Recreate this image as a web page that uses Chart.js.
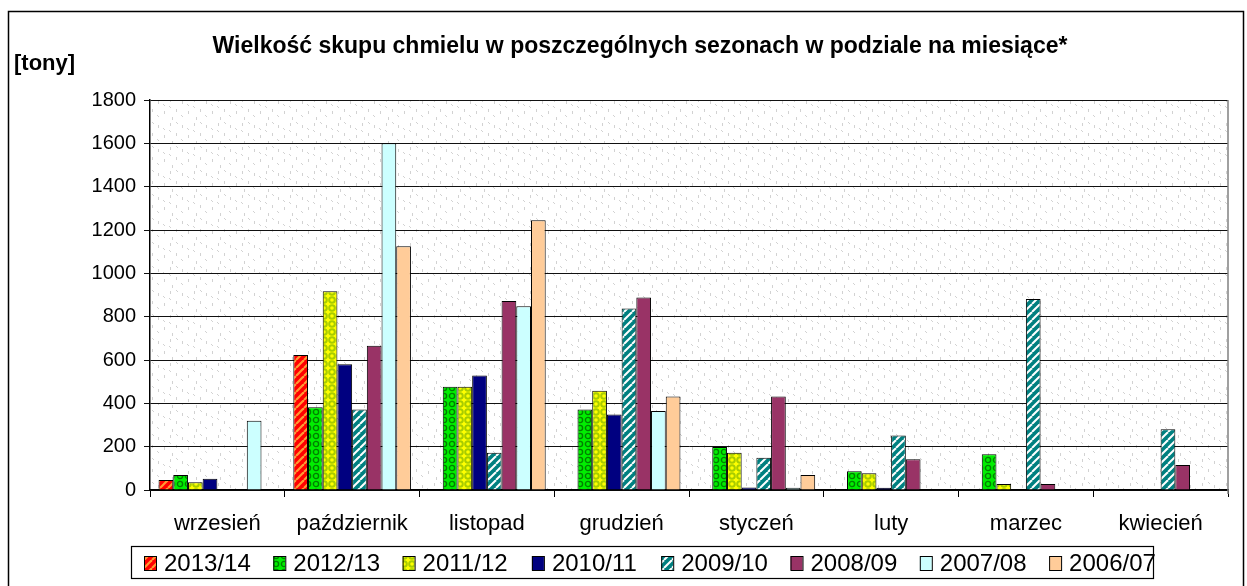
<!DOCTYPE html>
<html>
<head>
<meta charset="utf-8">
<script src="https://cdn.jsdelivr.net/npm/chart.js@4.4.1/dist/chart.umd.min.js"></script>
<style>
  html, body { margin: 0; padding: 0; background: #fff; }
  #c { display: block; }
</style>
</head>
<body>
<canvas id="c" width="1247" height="586"></canvas>
<script>
// ---- DATA ----
const categories = ['wrzesień', 'październik', 'listopad', 'grudzień', 'styczeń', 'luty', 'marzec', 'kwiecień'];
const seasons = ['2013/14', '2012/13', '2011/12', '2010/11', '2009/10', '2008/09', '2007/08', '2006/07'];
const s2013_14 = [46, 623, null, null, null, null, null, null];
const s2012_13 = [69, 382, 477, 372, 198, 86, 165, null];
const s2011_12 = [36, 917, 477, 458, 172, 77, 28, null];
const s2010_11 = [52, 580, 528, 348, 12, 10, null, null];
const s2009_10 = [null, 371, 172, 838, 149, 252, 882, 280];
const s2008_09 = [null, 666, 872, 889, 432, 142, 28, 115];
const s2007_08 = [320, 1600, 848, 365, 10, null, null, null];
const s2006_07 = [null, 1125, 1245, 432, 69, null, null, null];
const seriesValues = [s2013_14, s2012_13, s2011_12, s2010_11, s2009_10, s2008_09, s2007_08, s2006_07];
const yTicks = [0, 200, 400, 600, 800, 1000, 1200, 1400, 1600, 1800];
const titleText = 'Wielkość skupu chmielu w poszczególnych sezonach w podziale na miesiące*';
const unitText = '[tony]';

// ---- STYLE ----
const FONT = '"Liberation Sans", Arial, sans-serif';
const canvas = document.getElementById('c');
const ctx = canvas.getContext('2d');

function mkPattern(w, h, draw) {
  const c = document.createElement('canvas');
  c.width = w; c.height = h;
  const g = c.getContext('2d');
  draw(g, w, h);
  return ctx.createPattern(c, 'repeat');
}
function stripes(g, color, lw) {
  g.strokeStyle = color; g.lineWidth = lw;
  for (let x = -8; x <= 8; x += 8) {
    g.beginPath(); g.moveTo(x, 8); g.lineTo(x + 8, 0); g.stroke();
  }
}
const pRed = mkPattern(8, 8, (g) => { g.fillStyle = '#FF0000'; g.fillRect(0, 0, 8, 8); stripes(g, '#FF9933', 2.2); });
const pGreen = mkPattern(8, 8, (g) => {
  g.fillStyle = '#00EE00'; g.fillRect(0, 0, 8, 8);
  g.strokeStyle = '#008000'; g.lineWidth = 1.4;
  g.beginPath(); g.arc(4, 4, 2.6, 0, Math.PI * 2); g.stroke();
});
const pYellow = mkPattern(8, 8, (g) => {
  g.fillStyle = '#FFFF00'; g.fillRect(0, 0, 8, 8);
  g.strokeStyle = '#A8CC00'; g.lineWidth = 2;
  g.beginPath(); g.arc(4, 4, 2.8, 0, Math.PI * 2); g.stroke();
});
const pTeal = mkPattern(8, 8, (g) => { g.fillStyle = '#008080'; g.fillRect(0, 0, 8, 8); stripes(g, '#FFFFFF', 2); });
const seriesFills = [pRed, pGreen, pYellow, '#000080', pTeal, '#993366', '#CCFFFF', '#FFCC99'];

const pBack = mkPattern(24, 24, (g) => {
  g.fillStyle = '#FFFFFF'; g.fillRect(0, 0, 24, 24);
  g.fillStyle = '#D2D2D2';
  [[2,3],[14,5],[8,13],[20,15],[4,21]].forEach(([x,y]) => g.fillRect(x, y, 1, 3));
  [[8,2],[19,8],[1,10],[13,19]].forEach(([x,y]) => { g.fillRect(x, y, 1, 1); g.fillRect(x + 1, y + 1, 1, 1); });
});

const decor = {
  id: 'decor',
  beforeDraw(chart) {
    const g = chart.ctx, a = chart.chartArea;
    g.save();
    g.fillStyle = '#fff'; g.fillRect(0, 0, chart.width, chart.height);
    g.fillStyle = pBack; g.fillRect(a.left, a.top, a.right - a.left, a.bottom - a.top);
    g.restore();
  },
  afterDraw(chart) {
    const g = chart.ctx, a = chart.chartArea;
    g.save();
    // right plot border
    g.strokeStyle = '#808080'; g.lineWidth = 1.5;
    g.beginPath(); g.moveTo(a.right, a.top); g.lineTo(a.right, a.bottom + 4); g.stroke();
    // outer frame
    g.strokeStyle = '#000'; g.lineWidth = 1.5;
    g.strokeRect(8.5, 11.5, 1235, 600);
    // title and unit
    g.fillStyle = '#000'; g.textBaseline = 'alphabetic';
    g.font = 'bold 23px ' + FONT; g.textAlign = 'center';
    g.fillText(titleText, 640, 53);
    g.font = 'bold 22px ' + FONT;
    g.textAlign = 'left';
    g.fillText(unitText, 14, 70);
    // legend
    g.lineWidth = 1.2; g.strokeStyle = '#000';
    g.strokeRect(131.5, 546.5, 1022, 32);
    g.font = '24px ' + FONT;
    chart.data.datasets.forEach((ds, i) => {
      const mx = 144 + i * 129.3;
      g.fillStyle = ds.backgroundColor;
      g.fillRect(mx, 556, 12, 14);
      g.strokeStyle = '#000'; g.lineWidth = 1;
      g.strokeRect(mx + 0.5, 556.5, 12, 14);
      g.fillStyle = '#000';
      g.fillText(ds.label, mx + 20, 571);
    });
    g.restore();
  }
};

new Chart(ctx, {
  type: 'bar',
  data: {
    labels: categories,
    datasets: seasons.map((s, i) => ({
      label: s,
      data: seriesValues[i],
      backgroundColor: seriesFills[i],
      borderColor: '#000',
      borderWidth: 1,
      borderSkipped: 'start'
    }))
  },
  options: {
    responsive: false,
    animation: false,
    devicePixelRatio: 1,
    datasets: { bar: { categoryPercentage: 0.873, barPercentage: 1 } },
    layout: { padding: { left: 0, right: 19, top: 100, bottom: 46 } },
    plugins: { legend: { display: false }, title: { display: false }, tooltip: { enabled: false } },
    scales: {
      x: {
        grid: { drawOnChartArea: false, drawTicks: true, tickLength: 7, color: '#000', offset: true },
        border: { color: '#000', width: 1.5 },
        ticks: { color: '#000', font: { family: FONT, size: 22 }, padding: 14, maxRotation: 0 },
        afterFit(scale) { scale.height = 50; }
      },
      y: {
        min: 0, max: 1800,
        afterBuildTicks(scale) { scale.ticks = yTicks.map(v => ({ value: v })); },
        grid: { color: '#111', lineWidth: 1, tickLength: 6 },
        border: { color: '#000', width: 1.5 },
        ticks: { color: '#000', font: { family: FONT, size: 20 }, padding: 8, callback: (v) => String(v) },
        afterFit(scale) { scale.width = 150; }
      }
    }
  },
  plugins: [decor]
});
</script>
</body>
</html>
